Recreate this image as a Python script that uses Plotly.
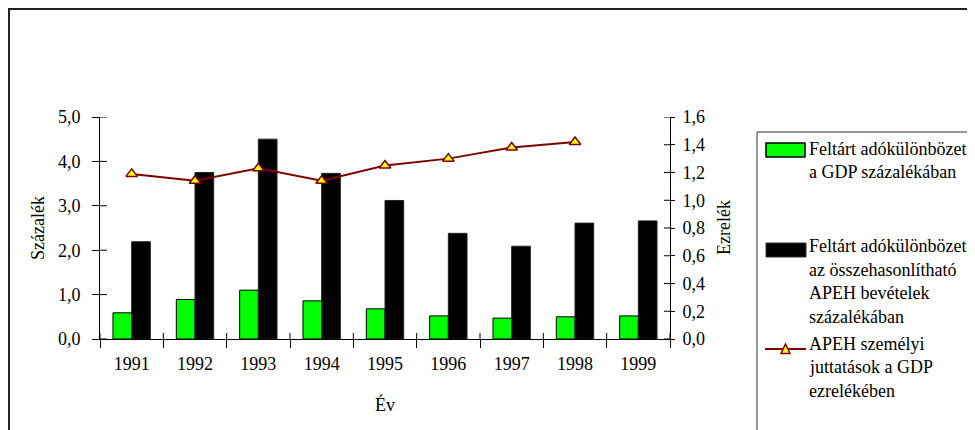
import plotly.graph_objects as go

# ---- data ----
years = ["1991", "1992", "1993", "1994", "1995", "1996", "1997", "1998", "1999"]
gap_gdp = [0.59, 0.89, 1.10, 0.86, 0.68, 0.52, 0.47, 0.50, 0.52]          # % of GDP
gap_apeh = [2.19, 3.75, 4.50, 3.73, 3.12, 2.38, 2.09, 2.61, 2.66]          # % of APEH revenues
benefits = [1.19, 1.14, 1.23, 1.14, 1.25, 1.30, 1.38, 1.42, None]          # per mille of GDP

left_ticks = [0, 1, 2, 3, 4, 5]
right_ticks = [0, 0.2, 0.4, 0.6, 0.8, 1.0, 1.2, 1.4, 1.6]

name_green = "Feltárt adókülönbözet<br>a GDP százalékában"
name_black = "Feltárt adókülönbözet<br>az összehasonlítható<br>APEH bevételek<br>százalékában"
name_line = "APEH személyi<br>juttatások a GDP<br>ezrelékében"

FONT = "Liberation Serif, Times New Roman, serif"
FS = 18
GREEN = "#00FF00"
DARKRED = "#800000"

# ---- layout geometry (page pixels; the figure sits at an 8px body offset) ----
OFF = 8
W, H = 975 - OFF, 430 - OFF
L, R, T, B = 100 - OFF, 670 - OFF, 117 - OFF, 339 - OFF   # plot area in figure pixels


def px(x):
    return (x - OFF - L) / (R - L)


def py(y):
    return (B - (y - OFF)) / (B - T)


fig = go.Figure()
fig.add_trace(go.Bar(x=years, y=gap_gdp, name=name_green, marker=dict(color=GREEN, line=dict(color="black", width=1))))
fig.add_trace(go.Bar(x=years, y=gap_apeh, name=name_black, marker=dict(color="black", line=dict(color="#222", width=1))))
fig.add_trace(go.Scatter(x=years, y=benefits, name=name_line, yaxis="y2", mode="lines+markers",
                         line=dict(color=DARKRED, width=2),
                         marker=dict(symbol="triangle-up", size=10, color="#FFFF00", line=dict(color=DARKRED, width=1.5))))

fig.update_layout(
    width=W, height=H,
    margin=dict(l=L, r=W - R, t=T, b=H - B, pad=0),
    paper_bgcolor="white", plot_bgcolor="white",
    font=dict(family=FONT, size=FS, color="black"),
    separators=", ",
    showlegend=False,
    barmode="group", bargap=0.41, bargroupgap=0,
    xaxis=dict(type="category", tickson="boundaries", ticks="outside", ticklen=8, tickwidth=1, tickcolor="black",
               showline=True, linecolor="black", linewidth=1, showgrid=False, zeroline=False,
               range=[-0.5, 8.5], ticklabelstandoff=8),
    yaxis=dict(range=[0, 5], tickvals=left_ticks, tickformat=".1f", ticks="outside", ticklen=7, tickcolor="black",
               showline=True, linecolor="black", linewidth=1, showgrid=False, zeroline=False,
               ticklabelstandoff=8),
    yaxis2=dict(range=[0, 1.6], tickvals=right_ticks, tickformat=".1f", overlaying="y", side="right",
                ticks="outside", ticklen=4, tickcolor="black", showline=True, linecolor="black", linewidth=1,
                showgrid=False, zeroline=False, ticklabelstandoff=4),
)

shapes = []
# inside halves of crossing ticks
for i in range(len(years) + 1):
    shapes.append(dict(type="line", xref="x", x0=i - 0.5, x1=i - 0.5, yref="paper", ysizemode="pixel",
                       yanchor=0, y0=0, y1=6, line=dict(color="black", width=1)))
for v in left_ticks:
    shapes.append(dict(type="line", yref="y", y0=v, y1=v, xref="paper", xsizemode="pixel", xanchor=0,
                       x0=0, x1=7, line=dict(color="black", width=1)))
for v in right_ticks:
    shapes.append(dict(type="line", yref="y2", y0=v, y1=v, xref="paper", xsizemode="pixel", xanchor=1,
                       x0=-6, x1=0, line=dict(color="black", width=1)))

# outer frame (extends past right/bottom edges)
shapes.append(dict(type="rect", xref="paper", yref="paper", x0=px(9), x1=px(1000), y0=py(9), y1=py(460),
                   line=dict(color="#222", width=2)))
# legend box
shapes.append(dict(type="rect", xref="paper", yref="paper", x0=px(757), x1=px(1000), y0=py(132), y1=py(460),
                   line=dict(color="#333", width=1)))
# legend icons
shapes.append(dict(type="rect", xref="paper", yref="paper", x0=px(766), x1=px(805), y0=py(143), y1=py(157),
                   fillcolor=GREEN, line=dict(color="black", width=1.5)))
shapes.append(dict(type="rect", xref="paper", yref="paper", x0=px(766), x1=px(806), y0=py(243), y1=py(257),
                   fillcolor="black", line=dict(color="#333", width=1)))
shapes.append(dict(type="line", xref="paper", yref="paper", x0=px(765), x1=px(806), y0=py(349), y1=py(349),
                   line=dict(color=DARKRED, width=2)))
shapes.append(dict(type="path", xref="paper", yref="paper",
                   path="M {} {} L {} {} L {} {} Z".format(px(781), py(353.5), px(790), py(353.5), px(785.5), py(344)),
                   fillcolor="#FFFF00", line=dict(color=DARKRED, width=1.5)))
fig.update_layout(shapes=shapes)

ann = []
# axis titles
ann.append(dict(text="Százalék", xref="paper", yref="paper", x=px(38), y=py(228), textangle=-90,
                showarrow=False, xanchor="center", yanchor="middle"))
ann.append(dict(text="Ezrelék", xref="paper", yref="paper", x=px(724), y=py(228), textangle=-90,
                showarrow=False, xanchor="center", yanchor="middle"))
ann.append(dict(text="Év", xref="paper", yref="paper", x=px(385), y=py(404),
                showarrow=False, xanchor="center", yanchor="middle"))
# legend texts, one annotation per line
for name, y0, step in [(name_green, 149, 22.5), (name_black, 246, 23.5), (name_line, 344, 23.3)]:
    for k, line in enumerate(name.split("<br>")):
        ann.append(dict(text=line, xref="paper", yref="paper", x=px(807), y=py(y0 + k * step),
                        showarrow=False, xanchor="left", yanchor="middle"))
fig.update_layout(annotations=ann)

fig.write_html("out.html")
